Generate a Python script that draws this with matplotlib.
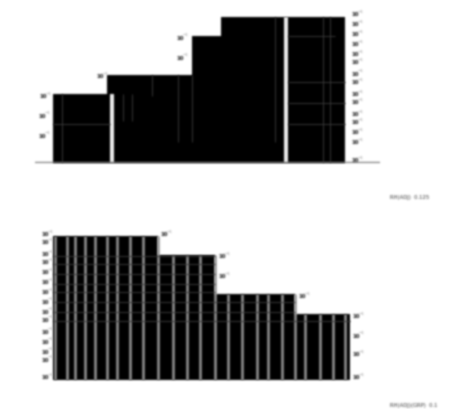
import matplotlib
matplotlib.use("Agg")
import matplotlib.pyplot as plt
import numpy as np

FIG_W, FIG_H = 450, 410
TOP_BASE = 164
BOTTOM_BASE = 381

# top panel: bar edges and heights
top_edges = [53, 107, 192, 221, 345]
top_heights = [69, 88, 127, 146]
# white slots cut through the bars
top_gap_lefts = [110, 284]
top_gap_widths = [4, 4]
top_gap_heights = [69, 146]

# bottom panel
bottom_edges = [53, 158, 215, 295, 350]
bottom_heights = [144, 125, 86, 66]
bottom_stripes = [55, 67, 75, 85, 95, 107, 117, 130, 143, 158, 173, 187, 200, 215,
                  228, 242, 257, 268, 282, 295, 305, 320, 333, 345]
bottom_rows = [59, 68, 78, 88, 96, 106, 116, 124]

# faint rules inside the top bars: x, y0, y1
top_vx = [62, 123, 132, 152, 178, 192, 275, 323, 330]
top_vy0 = [1, 42, 42, 67, 21, 21, 21, 1, 1]
top_vy1 = [69, 69, 69, 88, 88, 88, 146, 146, 146]
# horizontal: y, x0, x1
top_hy = [39, 81, 60, 39, 127]
top_hx0 = [53, 288, 288, 288, 288]
top_hx1 = [110, 345, 345, 345, 335]

# tick labels
top_tick_x = [43, 42, 42, 100, 180, 180] + [355] * 15
top_tick_y = [67, 48, 28, 87, 126, 106,
              149, 139, 129, 119, 109, 101, 90, 81, 69, 61, 49, 41, 31, 21, 3]
bottom_tick_x = [45] * 15 + [164, 222, 222, 302, 356, 356, 356, 356]
bottom_tick_y = [146, 138, 126, 118, 108, 98, 88, 79, 69, 61, 49, 39, 29, 21, 3,
                 146, 124, 104, 84, 64, 45, 26, 3]
tick_text = "10"
tick_sup = "−1"

top_note = "RH(ADJ)  0.125"
bottom_note = "RH(ADJ)(GRP)  0.1"

KERNEL = np.array([0.06, 0.24, 0.4, 0.24, 0.06])


def soften(image, dpi):
    # the filter buffer starts as transparent white, so blur premultiplied
    pad = 6
    out = np.pad(image, ((pad, pad), (pad, pad), (0, 0)))
    alpha = out[..., 3:].copy()
    out[..., :3] *= alpha
    for axis in (0, 1):
        out = sum(w * np.roll(out, i - 2, axis=axis) for i, w in enumerate(KERNEL))
    alpha = out[..., 3:]
    out[..., :3] = np.where(alpha > 0, out[..., :3] / np.maximum(alpha, 1e-6), 0)
    return out, -pad, -pad


def panel(base, height):
    ax = fig.add_axes([0, 1 - base / FIG_H, 1, height / FIG_H])
    ax.set_xlim(0, FIG_W)
    ax.set_ylim(0, height)
    ax.axis("off")
    return ax


def draw_ticks(ax, xs, ys):
    for x, y in zip(xs, ys):
        t = ax.text(x, y, tick_text, fontsize=4, color="#101010", fontweight="bold",
                    ha="center", va="center", clip_on=False)
        s = ax.text(x + 6, y + 3, tick_sup, fontsize=3, color="#909090",
                    ha="center", va="center", clip_on=False)
        t.set_agg_filter(soften)
        s.set_agg_filter(soften)


fig = plt.figure(figsize=(FIG_W / 100, FIG_H / 100), dpi=100)

ax_top = panel(TOP_BASE, 164)
ax_top.stairs(top_heights, top_edges, fill=True, color="black", linewidth=0).set_agg_filter(soften)
gaps = ax_top.bar(top_gap_lefts, top_gap_heights, width=top_gap_widths, align="edge",
                  color="#f0f0f0", linewidth=0)
for patch in gaps:
    patch.set_agg_filter(soften)
ax_top.vlines(top_vx, top_vy0, top_vy1, color="#3a3a3a", linewidth=0.7).set_agg_filter(soften)
ax_top.hlines(top_hy, top_hx0, top_hx1, color="#3a3a3a", linewidth=0.7).set_agg_filter(soften)
ax_top.hlines(0, 35, 380, color="#707070", linewidth=1.6).set_agg_filter(soften)
draw_ticks(ax_top, top_tick_x, top_tick_y)
ax_top.text(410, -33, top_note, fontsize=3.8, color="#333333", ha="center", va="center",
            clip_on=False).set_agg_filter(soften)

ax_bottom = panel(BOTTOM_BASE, 170)
ax_bottom.stairs(bottom_heights, bottom_edges, fill=True, color="black",
                 linewidth=0).set_agg_filter(soften)
for s in bottom_stripes:
    i = min(np.searchsorted(bottom_edges, s, side="right") - 1, len(bottom_heights) - 1)
    h = bottom_heights[i]
    if s in bottom_edges:
        h = bottom_heights[i - 1] if i > 0 else h
    ax_bottom.vlines(s, 0, h, color="#9a9a9a", linewidth=1.8).set_agg_filter(soften)
for row in bottom_rows:
    right = max(r for r, hh in zip(bottom_edges[1:], bottom_heights) if hh >= row)
    ax_bottom.hlines(row, 53, right, color="#3a3a3a", linewidth=0.7).set_agg_filter(soften)
ax_bottom.hlines(-1, 10, 407, color="#707070", linewidth=1.4).set_agg_filter(soften)
draw_ticks(ax_bottom, bottom_tick_x, bottom_tick_y)
ax_bottom.text(414, -25, bottom_note, fontsize=3.8, color="#333333", ha="center", va="center",
               clip_on=False).set_agg_filter(soften)

fig.savefig("out.png", dpi=100)
